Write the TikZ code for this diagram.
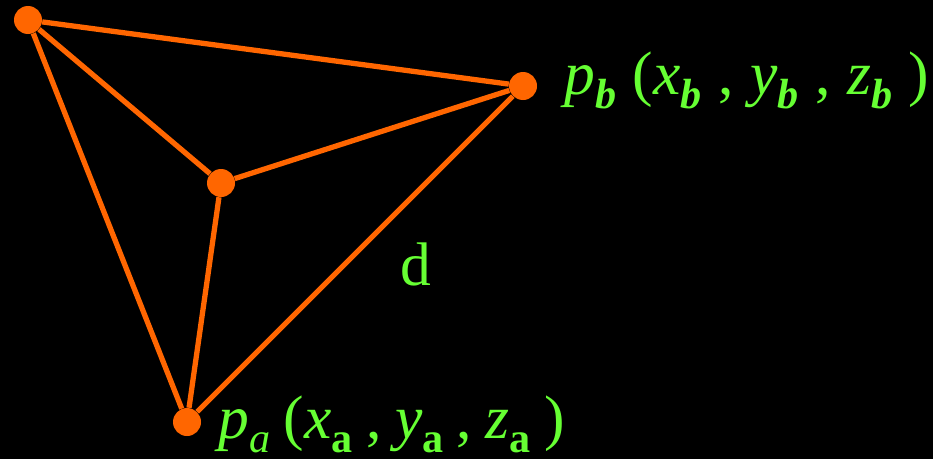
\documentclass[tikz,border=0pt]{standalone}
\usepackage{fontspec}
\setmainfont{Liberation Serif}
\definecolor{edgeorange}{RGB}{255,102,0}
\definecolor{labelgreen}{RGB}{102,255,51}
\newcommand{\subsc}[1]{\raisebox{-0.24em}{\fontsize{24}{24}\selectfont #1}}
\newcommand{\gapb}{\hspace{0.27em}}
\newcommand{\gapa}{\hspace{0.22em}}
\begin{document}
\begin{tikzpicture}[
	vertex/.style={ circle, fill=edgeorange, inner sep=0pt, minimum size=0.56cm },
	edge/.style={ edgeorange, line width=3pt },
	lbl/.style={ text=labelgreen, inner sep=0pt, font=\fontsize{35}{35}\selectfont }
]

\fill[black] (0,0) rectangle (18.66,-9.18);
\useasboundingbox (0,0) rectangle (18.66,-9.18);

\node at (0.56,-0.40) (v1) [vertex] {};
\node at (10.46,-1.72) (vb) [vertex] {};
\node at (4.42,-3.66) (v2) [vertex] {};
\node at (3.74,-8.44) (va) [vertex] {};
\draw[edge] (v1) to (vb) to (v2) to (v1) to (va) to (v2);
\draw[edge] (va) to (vb);

\node at (11.28,-1.88) (lb) [lbl,anchor=base west] {\textit{p}\subsc{\textbf{\textit{b}}}\gapb(\textit{x}\subsc{\textbf{\textit{b}}}\gapb,\gapb\textit{y}\subsc{\textbf{\textit{b}}}\gapb,\gapb\textit{z}\subsc{\textbf{\textit{b}}}\gapb)};
\node at (4.36,-8.76) (la) [lbl,anchor=base west] {\textit{p}\subsc{\textit{a}}\gapa(\textit{x}\subsc{\textbf{a}}\gapa,\gapa\textit{y}\subsc{\textbf{a}}\gapa,\gapa\textit{z}\subsc{\textbf{a}}\gapa)};
\node at (8.00,-5.70) (ld) [lbl,anchor=base west] {d};

\end{tikzpicture}
\end{document}
